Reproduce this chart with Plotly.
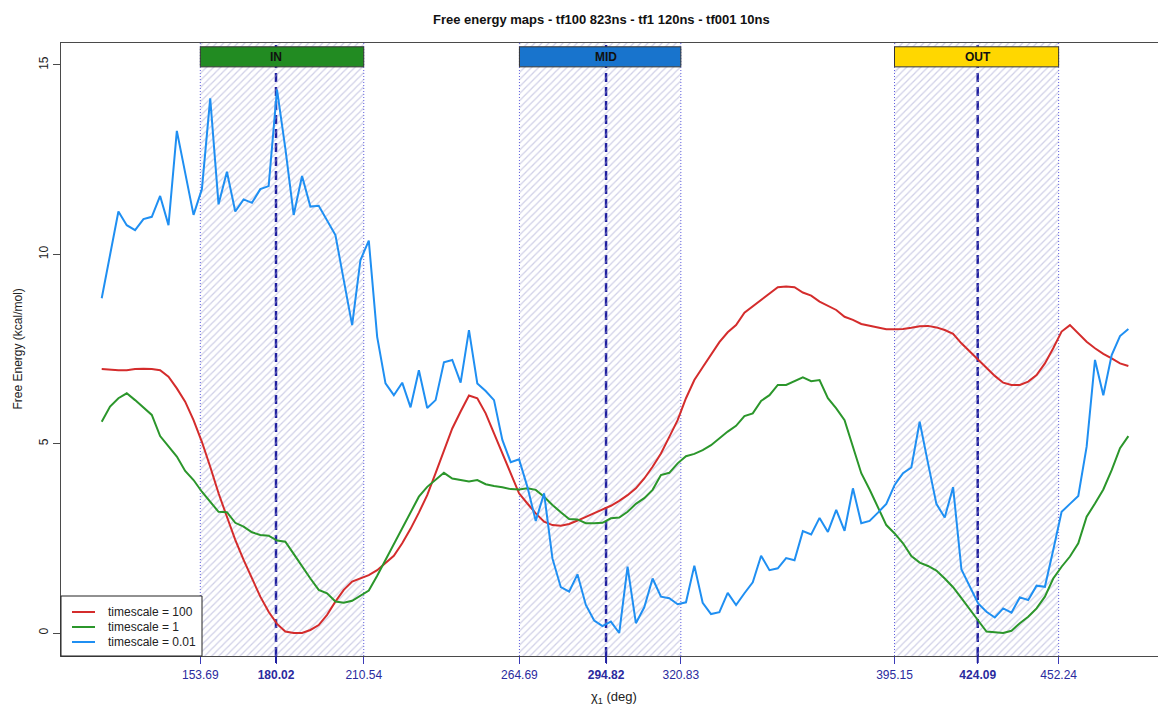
import plotly.graph_objects as go

# ---------------- data ----------------
chi = [119.40, 122.30, 125.21, 128.11, 131.01, 133.92, 136.82, 139.72, 142.63, 145.53,
       148.43, 151.34, 154.24, 157.14, 160.04, 162.95, 165.85, 168.75, 171.66, 174.56,
       177.46, 180.37, 183.27, 186.17, 189.08, 191.98, 194.88, 197.79, 200.69, 203.59,
       206.50, 209.40, 212.30, 215.21, 218.11, 221.01, 223.92, 226.82, 229.72, 232.62,
       235.53, 238.43, 241.33, 244.24, 247.14, 250.04, 252.95, 255.85, 258.75, 261.66,
       264.56, 267.46, 270.37, 273.27, 276.17, 279.08, 281.98, 284.88, 287.79, 290.69,
       293.59, 296.50, 299.40, 302.30, 305.20, 308.11, 311.01, 313.91, 316.82, 319.72,
       322.62, 325.53, 328.43, 331.33, 334.24, 337.14, 340.04, 342.95, 345.85, 348.75,
       351.66, 354.56, 357.46, 360.37, 363.27, 366.17, 369.08, 371.98, 374.88, 377.78,
       380.69, 383.59, 386.49, 389.40, 392.30, 395.20, 398.11, 401.01, 403.91, 406.82,
       409.72, 412.62, 415.53, 418.43, 421.33, 424.24, 427.14, 430.04, 432.95, 435.85,
       438.75, 441.66, 444.56, 447.46, 450.36, 453.27, 456.17, 459.07, 461.98, 464.88,
       467.78, 470.69, 473.59, 476.49]

tf100 = [6.97, 6.95, 6.94, 6.94, 6.97, 6.98, 6.97, 6.94, 6.77, 6.46,
         6.11, 5.62, 5.05, 4.39, 3.69, 3.07, 2.46, 1.93, 1.42, 0.96,
         0.56, 0.24, 0.04, 0.00, 0.00, 0.08, 0.21, 0.48, 0.83, 1.14,
         1.36, 1.44, 1.53, 1.66, 1.84, 2.04, 2.37, 2.75, 3.18, 3.64,
         4.22, 4.83, 5.40, 5.85, 6.27, 6.20, 5.80, 5.27, 4.74, 4.22,
         3.69, 3.42, 3.16, 2.94, 2.85, 2.83, 2.88, 2.97, 3.07, 3.18,
         3.27, 3.36, 3.49, 3.64, 3.82, 4.08, 4.39, 4.74, 5.18, 5.62,
         6.20, 6.68, 7.02, 7.34, 7.68, 7.94, 8.13, 8.46, 8.63, 8.81,
         8.97, 9.13, 9.15, 9.13, 8.99, 8.91, 8.75, 8.63, 8.53, 8.35,
         8.27, 8.16, 8.11, 8.05, 8.02, 8.02, 8.03, 8.06, 8.10, 8.11,
         8.07, 8.00, 7.90, 7.65, 7.43, 7.23, 6.99, 6.79, 6.61, 6.55,
         6.55, 6.64, 6.81, 7.12, 7.52, 7.96, 8.13, 7.90, 7.69, 7.52,
         7.37, 7.25, 7.12, 7.05]

tf1 = [5.58, 5.98, 6.20, 6.33, 6.15, 5.96, 5.76, 5.20, 4.92, 4.66,
       4.28, 4.04, 3.73, 3.47, 3.20, 3.19, 2.91, 2.81, 2.66, 2.59,
       2.57, 2.44, 2.41, 2.09, 1.75, 1.44, 1.14, 1.05, 0.83, 0.80,
       0.85, 0.99, 1.12, 1.51, 1.93, 2.32, 2.76, 3.20, 3.60, 3.86,
       4.04, 4.23, 4.08, 4.03, 4.00, 4.04, 3.93, 3.88, 3.85, 3.80,
       3.79, 3.82, 3.78, 3.60, 3.38, 3.19, 3.01, 3.00, 2.90, 2.90,
       2.91, 3.03, 3.05, 3.20, 3.41, 3.56, 3.78, 4.17, 4.23, 4.48,
       4.67, 4.73, 4.83, 4.96, 5.14, 5.32, 5.47, 5.73, 5.80, 6.13,
       6.28, 6.55, 6.55, 6.64, 6.75, 6.65, 6.68, 6.20, 5.93, 5.62,
       4.92, 4.22, 3.79, 3.34, 2.85, 2.63, 2.37, 2.03, 1.86, 1.77,
       1.65, 1.44, 1.21, 0.92, 0.61, 0.33, 0.04, 0.03, 0.00, 0.06,
       0.26, 0.43, 0.65, 0.96, 1.44, 1.75, 2.02, 2.37, 3.07, 3.42,
       3.79, 4.30, 4.88, 5.20]

tf001 = [8.84, 9.94, 11.13, 10.77, 10.64, 10.93, 10.99, 11.54, 10.77, 13.26,
         12.14, 11.04, 11.72, 14.12, 11.32, 12.18, 11.13, 11.45, 11.36, 11.72,
         11.80, 14.35, 12.80, 11.04, 12.07, 11.26, 11.28, 10.91, 10.51, 9.32,
         8.13, 9.85, 10.36, 7.82, 6.59, 6.28, 6.61, 5.96, 6.94, 5.94,
         6.15, 7.15, 7.21, 6.61, 8.00, 6.59, 6.39, 6.15, 5.10, 4.51,
         4.59, 3.86, 2.96, 3.69, 1.97, 1.21, 1.09, 1.55, 0.74, 0.33,
         0.18, 0.30, 0.00, 1.75, 0.26, 0.68, 1.44, 0.96, 0.92, 0.76,
         0.81, 1.78, 0.80, 0.50, 0.55, 1.06, 0.74, 1.05, 1.34, 2.04,
         1.66, 1.71, 1.98, 1.92, 2.69, 2.60, 3.04, 2.67, 3.25, 2.70,
         3.82, 2.90, 2.96, 3.18, 3.41, 3.91, 4.22, 4.37, 5.58, 4.48,
         3.41, 3.05, 3.85, 1.68, 1.22, 0.78, 0.56, 0.41, 0.65, 0.54,
         0.94, 0.87, 1.25, 1.22, 2.19, 3.20, 3.41, 3.62, 4.92, 7.21,
         6.28, 7.34, 7.84, 8.03]

series_names = ["timescale = 100", "timescale = 1", "timescale = 0.01"]
series_values = [tf100, tf1, tf001]

band_names = ["IN", "MID", "OUT"]
band_lo = [153.69, 264.69, 395.15]
band_mid = [180.02, 294.82, 424.09]
band_hi = [210.54, 320.83, 452.24]

y_ticks = [0, 5, 10, 15]

# ---------------- styling ----------------
series_colors = ["#d42c2c", "#2b962b", "#1f8ff2"]
band_colors = ["#228B22", "#1874CD", "#FFD700"]
W, H = 1158, 707
L, R, T, B = 61, 0, 43, 51
PW, PH = W - L - R, H - T - B
XR = [105.24, 486.8]
YR = [-0.607, 15.58]
FONT = "Liberation Sans, Arial, Helvetica, sans-serif"
TICKBLUE = "#2a2a9e"


def px_x(p):
    return (p - L) / PW


def px_y(p):
    return (H - B - p) / PH


fig = go.Figure()

# hatched bands
for lo, hi in zip(band_lo, band_hi):
    fig.add_trace(go.Scatter(
        x=[lo, hi, hi, lo, lo], y=[YR[0], YR[0], YR[1], YR[1], YR[0]],
        mode="none", fill="toself", fillcolor="rgba(0,0,0,0)",
        fillpattern=dict(shape="/", fgcolor="#a2a2d0", bgcolor="rgba(255,255,255,0)",
                         size=5, solidity=0.25),
        hoverinfo="skip", showlegend=False))

shapes = []
for lo, hi, mid in zip(band_lo, band_hi, band_mid):
    for xv in (lo, hi):
        shapes.append(dict(type="line", xref="x", yref="paper", x0=xv, x1=xv, y0=0, y1=1,
                           line=dict(color="#5c5ce0", width=1, dash="1px,2px"), layer="below"))
    shapes.append(dict(type="line", xref="x", yref="paper", x0=mid, x1=mid, y0=0, y1=1,
                       line=dict(color="#1f1f9f", width=2.5, dash="9px,5px"), layer="below"))
    shapes.append(dict(type="line", xref="x", yref="paper", x0=mid, x1=mid, y0=0, y1=-7 / PH,
                       line=dict(color="#1f1f9f", width=2), layer="above"))

# curves
for name, vals, col in zip(series_names, series_values, series_colors):
    fig.add_trace(go.Scatter(x=chi, y=vals, mode="lines", name=name,
                             line=dict(color=col, width=2), showlegend=False))

annotations = []
# band label boxes
for nm, lo, hi, mid, col in zip(band_names, band_lo, band_hi, band_mid, band_colors):
    shapes.append(dict(type="rect", xref="x", yref="y", x0=lo, x1=hi, y0=14.95, y1=15.48,
                       fillcolor=col, line=dict(color="#333333", width=1), layer="above"))
    annotations.append(dict(x=mid, y=15.215, xref="x", yref="y", text="<b>%s</b>" % nm,
                            showarrow=False, font=dict(size=12, color="#111111", family=FONT),
                            xanchor="center", yanchor="middle"))

# legend (drawn manually to match the R legend box)
shapes.append(dict(type="rect", xref="paper", yref="paper", x0=px_x(61), x1=px_x(202),
                   y0=px_y(656), y1=px_y(596), fillcolor="white",
                   line=dict(color="#222222", width=1), layer="above"))
for k, (name, col) in enumerate(zip(series_names, series_colors)):
    yy = px_y(612 + 15 * k)
    shapes.append(dict(type="line", xref="paper", yref="paper", x0=px_x(72), x1=px_x(95),
                       y0=yy, y1=yy, line=dict(color=col, width=2), layer="above"))
    annotations.append(dict(x=px_x(106), y=yy, xref="paper", yref="paper", text=name,
                            showarrow=False, xanchor="left", yanchor="middle",
                            font=dict(size=12, color="#222222", family=FONT)))

# titles
annotations.append(dict(x=px_x(601), y=px_y(19), xref="paper", yref="paper",
                        text="<b>Free energy maps - tf100 823ns - tf1 120ns - tf001 10ns</b>",
                        showarrow=False, xanchor="center", yanchor="middle",
                        font=dict(size=13, color="#111111", family=FONT)))
annotations.append(dict(x=px_x(614), y=px_y(697), xref="paper", yref="paper",
                        text="\u03c7<sub>1</sub> (deg)", showarrow=False,
                        xanchor="center", yanchor="middle",
                        font=dict(size=13, color="#222222", family=FONT)))
annotations.append(dict(x=px_x(17), y=0.5, xref="paper", yref="paper",
                        text="Free Energy (kcal/mol)", showarrow=False, textangle=-90,
                        xanchor="center", yanchor="middle",
                        font=dict(size=12, color="#222222", family=FONT)))

xticks = sorted(band_lo + band_mid + band_hi)
xtext = ["<b>%.2f</b>" % v if v in band_mid else "%.2f" % v for v in xticks]

fig.update_layout(
    width=W, height=H,
    margin=dict(l=L, r=R, t=T, b=B, pad=0),
    paper_bgcolor="white", plot_bgcolor="white",
    font=dict(family=FONT, size=12, color="#222222"),
    showlegend=False,
    shapes=shapes, annotations=annotations,
    xaxis=dict(range=XR, showline=True, mirror=True, linecolor="#4a4a4a", linewidth=1.3,
               showgrid=False, zeroline=False, ticks="outside", ticklen=7, tickwidth=1,
               tickcolor="#3a3ab8", tickvals=xticks, ticktext=xtext,
               tickfont=dict(size=12, color=TICKBLUE, family=FONT)),
    yaxis=dict(range=YR, showline=True, linecolor="#4a4a4a", linewidth=1.3,
               showgrid=False, zeroline=False, ticks="outside", ticklen=7, tickwidth=1,
               tickcolor="#4a4a4a", tickvals=y_ticks, ticktext=[str(v) for v in y_ticks],
               tickangle=-90, tickfont=dict(size=12, color="#222222", family=FONT)),
)

fig.write_html("out.html", config={"displayModeBar": False},
               post_script="document.body.style.margin='0px';")
